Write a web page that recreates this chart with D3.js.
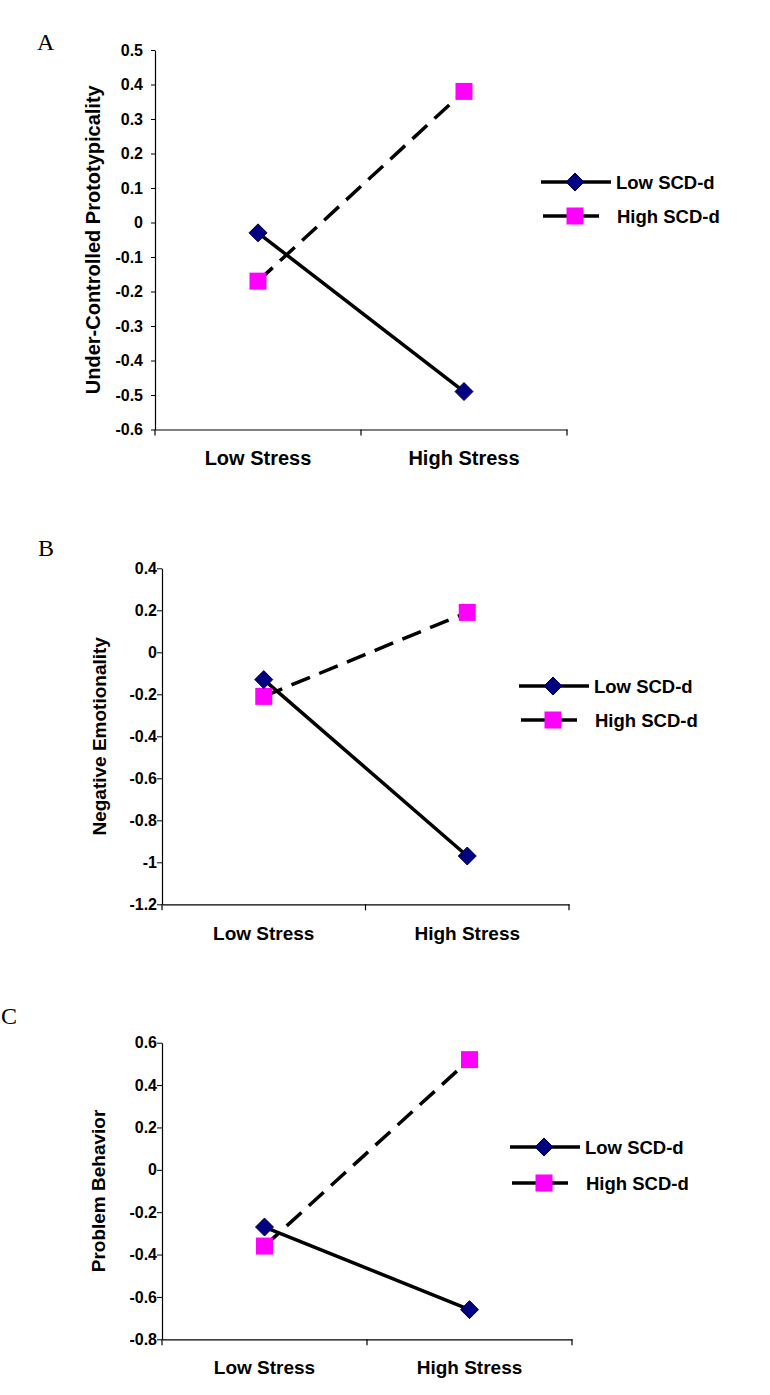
<!DOCTYPE html>
<html><head><meta charset="utf-8">
<script src="https://cdn.jsdelivr.net/npm/d3@7"></script>
<style>body{margin:0;background:#fff}svg{display:block}text{font-family:"Liberation Sans",Arial,sans-serif}</style>
</head><body>
<script>
const categories = ["Low Stress", "High Stress"];
const seriesNames = ["Low SCD-d", "High SCD-d"];
// Panel A: Under-Controlled Prototypicality
const aLow = [-0.03, -0.49];
const aHigh = [-0.17, 0.38];
const aTicks = [0.5, 0.4, 0.3, 0.2, 0.1, 0, -0.1, -0.2, -0.3, -0.4, -0.5, -0.6];
// Panel B: Negative Emotionality
const bLow = [-0.13, -0.97];
const bHigh = [-0.21, 0.19];
const bTicks = [0.4, 0.2, 0, -0.2, -0.4, -0.6, -0.8, -1, -1.2];
// Panel C: Problem Behavior
const cLow = [-0.27, -0.66];
const cHigh = [-0.36, 0.52];
const cTicks = [0.6, 0.4, 0.2, 0, -0.2, -0.4, -0.6, -0.8];

const svg = d3.select("body").append("svg").attr("width", 770).attr("height", 1395);

function panel(o) {
  const g = svg.append("g");
  const x = d3.scaleBand().domain(categories).range([o.x0, o.x1]);
  const y = d3.scaleLinear().domain([d3.min(o.ticks), d3.max(o.ticks)]).range([o.y1, o.y0]);
  g.append("text").attr("x", o.lx).attr("y", o.ly)
    .style("font-family", "'Liberation Serif', 'Times New Roman', serif").attr("font-size", 24).text(o.letter);
  const ya = g.append("g").attr("transform", `translate(${o.x0},0)`)
    .call(d3.axisLeft(y).tickValues(o.ticks).tickSize(o.tick).tickSizeOuter(0).tickFormat(d => String(+d.toFixed(1))));
  ya.select(".domain").attr("stroke", "#000").attr("stroke-width", 1.2);
  ya.selectAll(".tick line").attr("stroke", "#000");
  ya.selectAll(".tick text").attr("font-size", o.tfs).attr("font-weight", "bold").attr("fill", "#000")
    .attr("font-family", null).attr("x", -o.tgap);
  const xa = g.append("g").attr("transform", `translate(0,${o.y1})`)
    .call(d3.axisBottom(x).tickSize(0).tickPadding(o.xpad));
  xa.select(".domain").attr("stroke", "#000").attr("stroke-width", 1.2);
  xa.selectAll(".tick text").attr("font-size", o.xfs).attr("font-weight", "bold").attr("fill", "#000").attr("font-family", null);
  const bounds = [o.x0, o.x0 + x.step(), o.x1];
  g.selectAll(".xb").data(bounds).join("line")
    .attr("x1", d => d).attr("x2", d => d).attr("y1", o.y1).attr("y2", o.y1 + 6)
    .attr("stroke", "#000").attr("stroke-width", 1.2);
  g.append("text").attr("transform", `translate(${o.tx},${(o.y0 + o.y1) / 2}) rotate(-90)`)
    .attr("text-anchor", "middle").attr("font-size", o.yfs).attr("font-weight", "bold").text(o.title);
  const cx = d => x(d) + x.bandwidth() / 2;
  const line = d3.line().x(d => cx(d[0])).y(d => y(d[1]));
  const dLow = categories.map((c, i) => [c, o.low[i]]);
  const dHigh = categories.map((c, i) => [c, o.high[i]]);
  g.append("path").attr("d", line(dHigh)).attr("fill", "none").attr("stroke", "#000")
    .attr("stroke-width", 3.5).attr("stroke-dasharray", o.dash);
  g.append("path").attr("d", line(dLow)).attr("fill", "none").attr("stroke", "#000").attr("stroke-width", 3.5);
  const diamond = (px, py) => `M${px},${py - 9}L${px + 9},${py}L${px},${py + 9}L${px - 9},${py}Z`;
  g.selectAll(".sq").data(dHigh).join("rect")
    .attr("x", d => cx(d[0]) - 8.5).attr("y", d => y(d[1]) - 8.5).attr("width", 17).attr("height", 17).attr("fill", "#ff00ff");
  g.selectAll(".dm").data(dLow).join("path")
    .attr("d", d => diamond(cx(d[0]), y(d[1]))).attr("fill", "#000080").attr("stroke", "#00004a").attr("stroke-width", 1);
  const L = o.leg;
  g.append("line").attr("x1", L.x).attr("x2", L.x + 70).attr("y1", L.y).attr("y2", L.y).attr("stroke", "#000").attr("stroke-width", 3.5);
  g.append("path").attr("d", diamond(L.x + 34, L.y)).attr("fill", "#000080").attr("stroke", "#00004a");
  g.append("text").attr("x", L.x + 75).attr("y", L.y).attr("dy", "0.36em").attr("font-size", L.fs).attr("font-weight", "bold").text(seriesNames[0]);
  const y2 = L.y + L.gap;
  g.append("line").attr("x1", L.x + 2).attr("x2", L.x + 58).attr("y1", y2).attr("y2", y2).attr("stroke", "#000").attr("stroke-width", 3.5);
  g.append("rect").attr("x", L.x + 25.5).attr("y", y2 - 8.5).attr("width", 17).attr("height", 17).attr("fill", "#ff00ff");
  g.append("text").attr("x", L.x + 76).attr("y", y2).attr("dy", "0.36em").attr("font-size", L.fs).attr("font-weight", "bold").text(seriesNames[1]);
}

panel({letter: "A", lx: 37, ly: 50, x0: 155, x1: 567, y0: 50, y1: 429.5, ticks: aTicks, low: aLow, high: aHigh,
  title: "Under-Controlled Prototypicality", tx: 100, yfs: 20, tfs: 16, tick: 4, tgap: 12, xfs: 20, xpad: 21, dash: "20,10",
  leg: {x: 541, y: 182, gap: 34, fs: 18.5}});
panel({letter: "B", lx: 38, ly: 556, x0: 162, x1: 569, y0: 568.3, y1: 904.3, ticks: bTicks, low: bLow, high: bHigh,
  title: "Negative Emotionality", tx: 106, yfs: 19, tfs: 16, tick: 5, tgap: 5, xfs: 19, xpad: 22, dash: "20,10",
  leg: {x: 519, y: 686, gap: 34, fs: 18.5}});
panel({letter: "C", lx: 1, ly: 1024, x0: 162, x1: 572, y0: 1042.7, y1: 1339.3, ticks: cTicks, low: cLow, high: cHigh,
  title: "Problem Behavior", tx: 105, yfs: 19, tfs: 16, tick: 5, tgap: 5, xfs: 19, xpad: 21, dash: "20,10",
  leg: {x: 510, y: 1147, gap: 36, fs: 18.5}});
</script>
</body></html>
